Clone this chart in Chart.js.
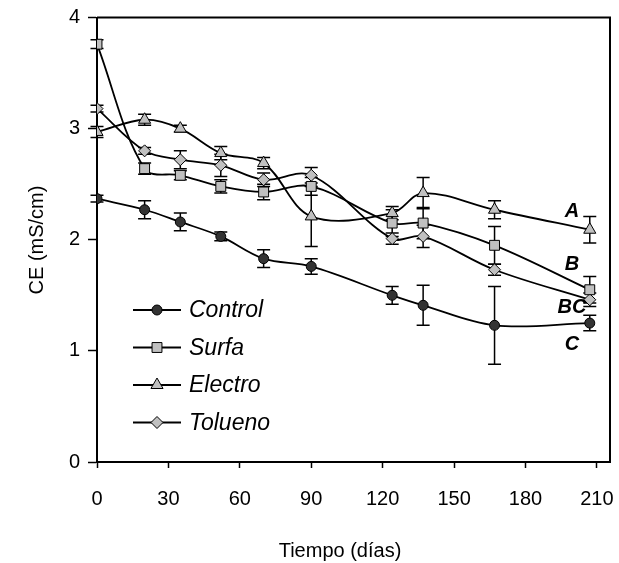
<!DOCTYPE html>
<html>
<head>
<meta charset="utf-8">
<script src="https://cdn.jsdelivr.net/npm/chart.js@4.4.1/dist/chart.umd.min.js"></script>
<style>
  html, body { margin: 0; padding: 0; background: #fff; }
  #wrap { width: 619px; height: 563px; }
</style>
</head>
<body>
<div id="wrap"><canvas id="myChart" width="619" height="563"></canvas></div>
<script>
const dias = [0, 20, 35, 52, 70, 90, 124, 137, 167, 207];

const control = [2.37, 2.27, 2.16, 2.03, 1.83, 1.76, 1.50, 1.41, 1.23, 1.25];
const surfa   = [3.76, 2.64, 2.58, 2.48, 2.43, 2.48, 2.15, 2.15, 1.95, 1.55];
const electro = [2.97, 3.08, 3.00, 2.78, 2.69, 2.21, 2.24, 2.42, 2.27, 2.09];
const tolueno = [3.18, 2.80, 2.72, 2.67, 2.54, 2.58, 2.01, 2.03, 1.73, 1.46];

const errControl = [0.03, 0.08, 0.08, 0.04, 0.08, 0.07, 0.08, 0.18, 0.35, 0.07];
const errSurfa   = [0.04, 0.05, 0.04, 0.06, 0.07, 0.08, 0.12, 0.14, 0.17, 0.12];
const errElectro = [0.05, 0.05, 0.03, 0.06, 0.05, 0.27, 0.06, 0.14, 0.08, 0.12];
const errTolueno = [0.03, 0.03, 0.08, 0.10, 0.06, 0.07, 0.05, 0.10, 0.05, 0.06];

const nombres = ["Control", "Surfa", "Electro", "Tolueno"];
const letras = ["A", "B", "BC", "C"];
const letrasY = [2.25, 1.78, 1.39, 1.06];
const letrasX = 199.5;

const yTicks = [0, 1, 2, 3, 4];
const xTicks = [0, 30, 60, 90, 120, 150, 180, 210];

const FONT = "'Liberation Sans', Arial, sans-serif";

function serie(label, values, errs, style, radius, fill) {
    return {
        label: label,
        data: dias.map((d, i) => ({ x: d, y: values[i] })),
        errs: errs,
        borderColor: "#000",
        borderWidth: 1.8,
        tension: 0.35,
        pointStyle: style,
        pointRadius: radius,
        pointHoverRadius: radius,
        pointBackgroundColor: fill,
        pointBorderColor: "#000",
        pointBorderWidth: 1,
        fill: false,
    };
}

const errorBars = {
    id: "errorBars",
    beforeDatasetsDraw(chart) {
        const ctx = chart.ctx;
        const xs = chart.scales.x, ys = chart.scales.y;
        ctx.save();
        ctx.strokeStyle = "#000";
        ctx.lineWidth = 1.5;
        chart.data.datasets.forEach(ds => {
            ds.data.forEach((p, i) => {
                const e = ds.errs[i];
                const x = xs.getPixelForValue(p.x);
                const y1 = ys.getPixelForValue(p.y + e);
                const y2 = ys.getPixelForValue(p.y - e);
                ctx.beginPath();
                ctx.moveTo(x, y1); ctx.lineTo(x, y2);
                ctx.moveTo(x - 6.5, y1); ctx.lineTo(x + 6.5, y1);
                ctx.moveTo(x - 6.5, y2); ctx.lineTo(x + 6.5, y2);
                ctx.stroke();
            });
        });
        ctx.restore();
    },
};

const extras = {
    id: "extras",
    afterDraw(chart) {
        const ctx = chart.ctx;
        const a = chart.chartArea;
        const xs = chart.scales.x, ys = chart.scales.y;
        ctx.save();
        // marco
        ctx.strokeStyle = "#000";
        ctx.lineWidth = 2;
        ctx.beginPath();
        ctx.moveTo(a.left, a.top); ctx.lineTo(a.right, a.top); ctx.lineTo(a.right, a.bottom);
        ctx.stroke();

        // letras
        ctx.fillStyle = "#000";
        ctx.font = "italic bold 20px " + FONT;
        ctx.textAlign = "center";
        ctx.textBaseline = "middle";
        letras.forEach((t, i) => {
            ctx.fillText(t, xs.getPixelForValue(letrasX), ys.getPixelForValue(letrasY[i]));
        });

        // leyenda
        ctx.font = "italic 23px " + FONT;
        ctx.textAlign = "left";
        chart.data.datasets.forEach((ds, i) => {
            const y = 310 + i * 37.5;
            ctx.strokeStyle = "#000";
            ctx.lineWidth = 1.8;
            ctx.beginPath();
            ctx.moveTo(133, y); ctx.lineTo(181, y);
            ctx.stroke();
            ctx.fillStyle = ds.pointBackgroundColor;
            ctx.strokeStyle = "#000";
            ctx.lineWidth = 1;
            Chart.helpers.drawPoint(ctx, {
                pointStyle: ds.pointStyle,
                radius: ds.pointRadius,
                borderWidth: 1,
                rotation: 0,
            }, 157, y);
            ctx.fillStyle = "#000";
            ctx.fillText(nombres[i], 189, y + 1);
        });

        // titulos de ejes
        ctx.font = "20px " + FONT;
        ctx.textAlign = "center";
        ctx.fillText("Tiempo (días)", 340, 551);
        ctx.translate(37, 240);
        ctx.rotate(-Math.PI / 2);
        ctx.fillText("CE (mS/cm)", 0, 0);
        ctx.restore();
    },
};

const ctx = document.getElementById("myChart").getContext("2d");
const myChart = new Chart(ctx, {
    type: "line",
    data: {
        datasets: [
            serie(nombres[0], control, errControl, "circle", 5, "#333333"),
            serie(nombres[1], surfa, errSurfa, "rect", 7, "#c0c0c0"),
            serie(nombres[2], electro, errElectro, "triangle", 7, "#c0c0c0"),
            serie(nombres[3], tolueno, errTolueno, "rectRot", 6, "#c0c0c0"),
        ],
    },
    options: {
        responsive: false,
        animation: false,
        layout: { padding: { left: 0, right: 9, top: 17.5, bottom: 0 } },
        plugins: {
            legend: { display: false },
            tooltip: { enabled: false },
        },
        scales: {
            x: {
                type: "linear",
                min: 0,
                max: 215.5,
                afterFit: s => { s.height = 101; s.paddingLeft = 0; s.paddingRight = 0; },
                afterBuildTicks: s => { s.ticks = xTicks.map(v => ({ value: v })); },
                ticks: { color: "#000", font: { family: FONT, size: 20 }, padding: 19, maxRotation: 0 },
                grid: { drawOnChartArea: false, color: "#000", tickLength: 6, tickWidth: 1.5 },
                border: { color: "#000", width: 2 },
            },
            y: {
                min: 0,
                max: 4,
                afterFit: s => { s.width = 97; s.paddingTop = 0; s.paddingBottom = 0; },
                afterBuildTicks: s => { s.ticks = yTicks.map(v => ({ value: v })); },
                ticks: { color: "#000", font: { family: FONT, size: 20 }, padding: 8 },
                grid: { drawOnChartArea: false, color: "#000", tickLength: 9, tickWidth: 1.5 },
                border: { color: "#000", width: 2 },
            },
        },
    },
    plugins: [errorBars, extras],
});
</script>
</body>
</html>
